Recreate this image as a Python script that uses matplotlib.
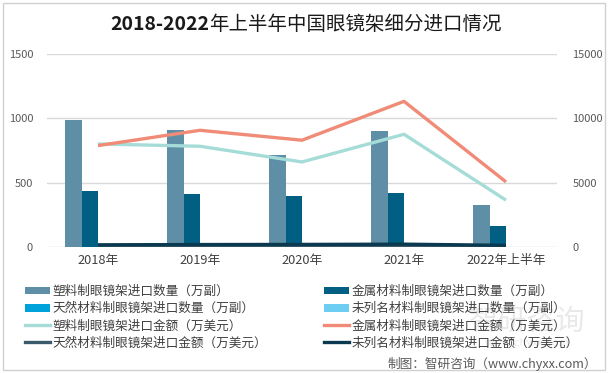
import matplotlib
matplotlib.use("Agg")
import matplotlib.pyplot as plt
import numpy as np
from matplotlib.patches import Patch, Rectangle
from matplotlib.lines import Line2D

plt.rcParams['font.family'] = ['Noto Sans CJK SC', 'DejaVu Sans']

categories = ['2018年', '2019年', '2020年', '2021年', '2022年上半年']
plastic_qty = [985, 912, 718, 899, 328]
metal_qty = [434, 413, 398, 421, 160]
natural_qty = [1, 1, 1, 1, 0.5]
unlisted_qty = [3, 3, 2, 3, 1]
plastic_amt = [8010, 7830, 6610, 8760, 3640]
metal_amt = [7880, 9070, 8300, 11320, 5060]
natural_amt = [30, 30, 30, 30, 15]
unlisted_amt = [170, 190, 200, 220, 130]

qty_labels = ['塑料制眼镜架进口数量（万副）', '金属材料制眼镜架进口数量（万副）',
              '天然材料制眼镜架进口数量（万副）', '未列名材料制眼镜架进口数量（万副）']
amt_labels = ['塑料制眼镜架进口金额（万美元）', '金属材料制眼镜架进口金额（万美元）',
              '天然材料制眼镜架进口金额（万美元）', '未列名材料制眼镜架进口金额（万美元）']

bar_colors = ['#5e8fa7', '#005f82', '#00a2dc', '#6ecdf2']
line_colors = ['#a6dcd8', '#f08b77', '#3b5a6b', '#0b3a50']

W, H = 609, 373
fig = plt.figure(figsize=(W / 100, H / 100), dpi=100)
fig.patch.set_facecolor('white')
fig.patches.append(Rectangle((3 / W, 1 - 370 / H), 602 / W, 367 / H, transform=fig.transFigure,
                             fill=False, edgecolor='#d0d0d0', lw=1))

ax = fig.add_axes([47 / W, 1 - 247 / H, 510 / W, 193 / H])
ax2 = ax.twinx()

x = np.arange(len(categories))
w = 0.16
qty_series = [plastic_qty, metal_qty, natural_qty, unlisted_qty]
for i, (vals, c) in enumerate(zip(qty_series, bar_colors)):
    ax.bar(x + (i - 1.5) * w, vals, width=w, color=c, zorder=2)

amt_series = [plastic_amt, metal_amt, natural_amt, unlisted_amt]
for vals, c in zip(amt_series, line_colors):
    ax2.plot(x, vals, color=c, lw=2.4, solid_capstyle='butt', zorder=3)

ax.set_xlim(-0.5, len(categories) - 0.5)
ax.set_ylim(0, 1500)
ax2.set_ylim(0, 15000)
ax.set_yticks([0, 500, 1000, 1500])
ax2.set_yticks([0, 5000, 10000, 15000])
ax.set_xticks(x)
ax.set_xticklabels(categories)
ax.grid(axis='y', color='#d9d9d9', lw=1, zorder=0)
ax.set_axisbelow(True)
for a in (ax, ax2):
    for s in a.spines.values():
        s.set_visible(False)
ax.tick_params(axis='both', length=0)
ax2.tick_params(axis='both', length=0)
ax.tick_params(axis='y', labelsize=8, labelcolor='#595959', pad=10)
ax2.tick_params(axis='y', labelsize=8, labelcolor='#595959', pad=11)
ax.tick_params(axis='x', labelsize=9.2, labelcolor='#404040', pad=5)
ax.set_zorder(1)
ax2.set_zorder(2)
ax2.patch.set_visible(False)

# legends
fs = 9.1
col1 = [Patch(facecolor=bar_colors[0]), Patch(facecolor=bar_colors[2]),
        Line2D([], [], color=line_colors[0], lw=2.4), Line2D([], [], color=line_colors[2], lw=2.4)]
lab1 = [qty_labels[0], qty_labels[2], amt_labels[0], amt_labels[2]]
col2 = [Patch(facecolor=bar_colors[1]), Patch(facecolor=bar_colors[3]),
        Line2D([], [], color=line_colors[1], lw=2.4), Line2D([], [], color=line_colors[3], lw=2.4)]
lab2 = [qty_labels[1], qty_labels[3], amt_labels[1], amt_labels[3]]
common = dict(loc='upper left', frameon=False, fontsize=fs, borderpad=0, borderaxespad=0,
              handlelength=2.0, handleheight=0.55, handletextpad=0.15, labelspacing=0.33,
              labelcolor='#404040')
leg1 = fig.legend(col1, lab1, bbox_to_anchor=(25 / W, 1 - 285 / H), **common)
leg2 = fig.legend(col2, lab2, bbox_to_anchor=(324 / W, 1 - 285 / H), **common)

# title
ty = 1 - 25 / H
tfs = 14
t1 = fig.text(110 / W, ty, '2018-2022', fontsize=tfs, weight='bold', ha='left', va='center', color='#1a1a1a')
fig.canvas.draw()
bb = t1.get_window_extent()
fig.text(bb.x1 / W, ty, '年上半年中国眼镜架细分进口情况', fontsize=tfs, ha='left', va='center', color='#1a1a1a')

# watermark
fig.text(527 / W, 1 - 322 / H, '智研咨询', fontsize=21, color='#c8c8c8', alpha=0.4,
         ha='center', va='center', zorder=0)
fig.text(527 / W, 1 - 343 / H, 'www.chyxx.com', fontsize=8, color='#c8c8c8', alpha=0.4,
         ha='center', va='center', zorder=0)

# source
fig.text(597 / W, 1 - 364 / H, '制图：智研咨询（www.chyxx.com）', fontsize=fs, color='#595959',
         ha='right', va='center')

fig.savefig('out.png', dpi=100)
